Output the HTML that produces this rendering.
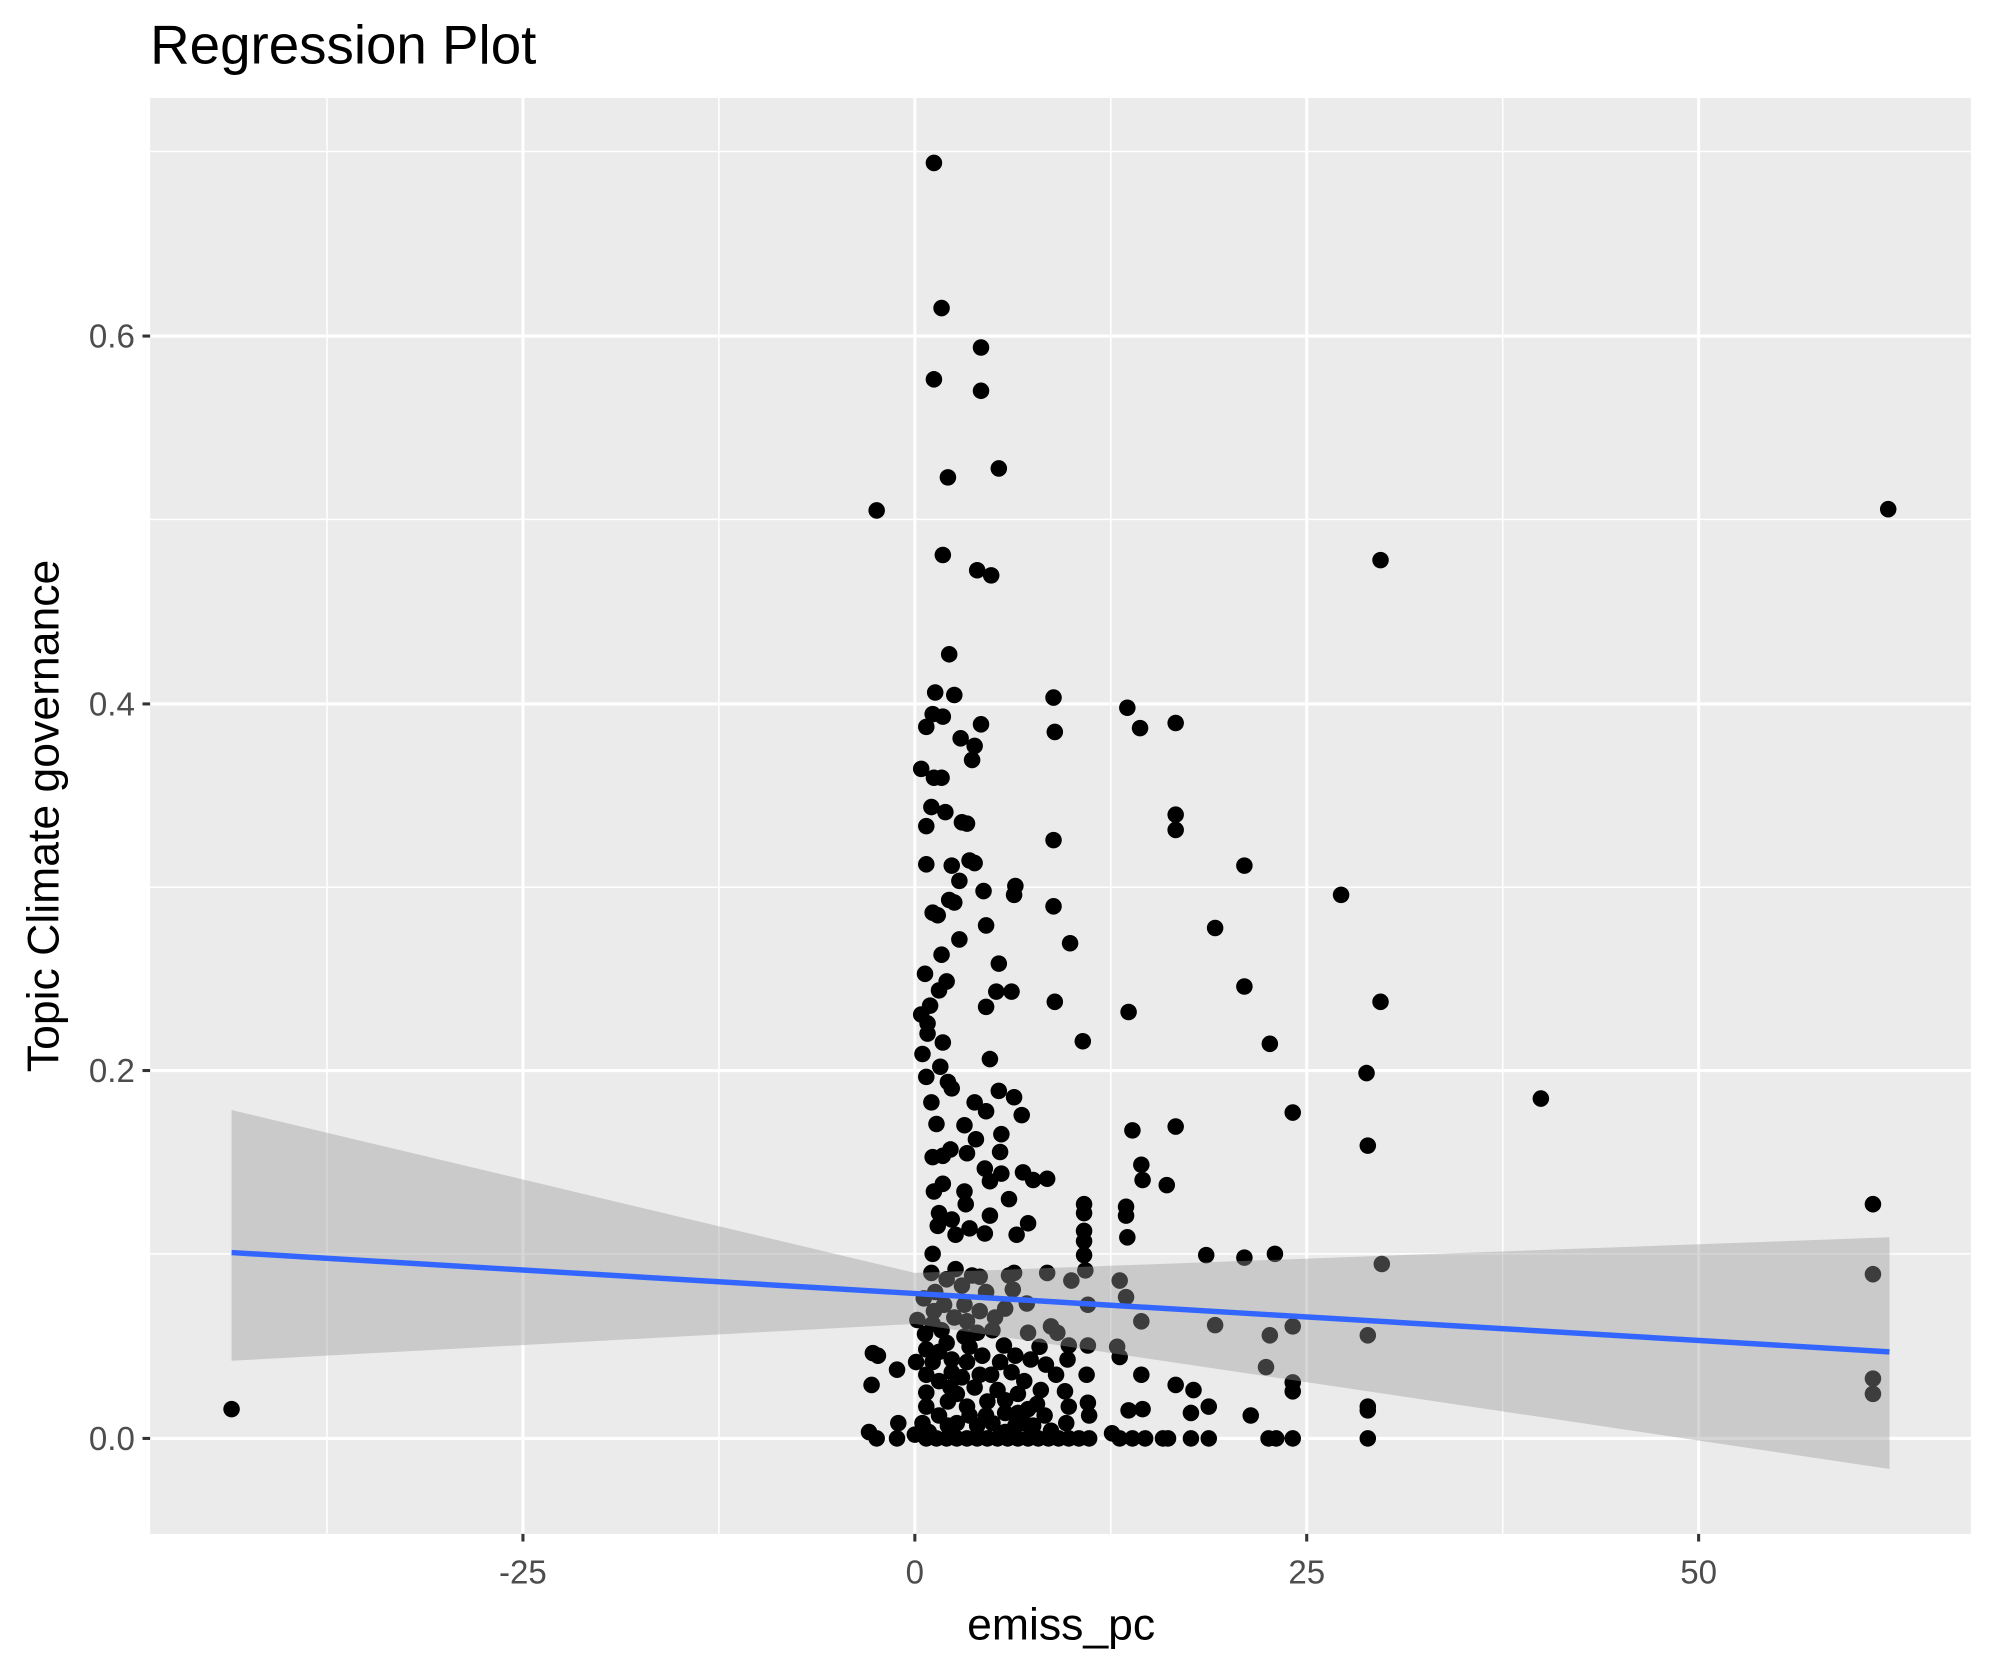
<!DOCTYPE html>
<html><head><meta charset="utf-8"><style>html,body{margin:0;padding:0;background:#fff}svg{display:block}</style></head>
<body>
<svg width="1990" height="1665" viewBox="0 0 1564 1308" preserveAspectRatio="none" xmlns="http://www.w3.org/2000/svg" font-family="Liberation Sans, sans-serif">
<rect x="0" y="0" width="1564" height="1308" fill="#fff"/>
<rect x="118" y="77" width="1431" height="1128" fill="#ebebeb"/>
<g stroke="#fff" stroke-width="1.2">
<line x1="257" y1="77" x2="257" y2="1205"/><line x1="565" y1="77" x2="565" y2="1205"/><line x1="873" y1="77" x2="873" y2="1205"/><line x1="1181" y1="77" x2="1181" y2="1205"/>
<line x1="118" y1="985" x2="1549" y2="985"/><line x1="118" y1="697" x2="1549" y2="697"/><line x1="118" y1="408" x2="1549" y2="408"/><line x1="118" y1="119" x2="1549" y2="119"/>
</g>
<g stroke="#fff" stroke-width="2.4">
<line x1="411" y1="77" x2="411" y2="1205"/><line x1="719" y1="77" x2="719" y2="1205"/><line x1="1027" y1="77" x2="1027" y2="1205"/><line x1="1335" y1="77" x2="1335" y2="1205"/>
<line x1="118" y1="1130" x2="1549" y2="1130"/><line x1="118" y1="841" x2="1549" y2="841"/><line x1="118" y1="553" x2="1549" y2="553"/><line x1="118" y1="264" x2="1549" y2="264"/>
</g>
<path fill="none" stroke="#000" stroke-width="13" stroke-linecap="round" d="M734 128h0M740 242h0M771 273h0M734 298h0M771 307h0M689 401h0M745 375h0M785 368h0M1484 400h0M741 436h0M768 448h0M779 452h0M1085 440h0M746 514h0M735 544h0M750 546h0M828 548h0M886 556h0M924 568h0M896 572h0M728 571h0M741 563h0M733 561h0M771 569h0M755 580h0M829 575h0M766 586h0M764 597h0M724 604h0M734 611h0M740 611h0M732 634h0M743 638h0M756 646h0M760 647h0M728 649h0M924 640h0M924 652h0M728 679h0M748 680h0M762 676h0M766 678h0M754 692h0M798 696h0M797 703h0M773 700h0M828 660h0M978 680h0M1054 703h0M733 717h0M737 719h0M750 709h0M746 707h0M775 727h0M828 712h0M955 729h0M754 738h0M841 741h0M740 750h0M785 757h0M727 765h0M744 771h0M738 778h0M731 790h0M783 779h0M795 779h0M978 775h0M829 787h0M887 795h0M775 791h0M1085 787h0M724 797h0M729 804h0M729 812h0M741 819h0M725 828h0M851 818h0M998 820h0M778 832h0M739 838h0M728 846h0M745 850h0M748 855h0M1074 843h0M785 857h0M766 866h0M732 866h0M797 862h0M1211 863h0M1016 874h0M775 873h0M803 876h0M736 883h0M758 884h0M787 891h0M890 888h0M924 885h0M1075 900h0M747 903h0M767 895h0M774 918h0M786 905h0M733 909h0M741 908h0M760 906h0M804 921h0M812 927h0M823 926h0M897 915h0M898 927h0M917 931h0M741 930h0M734 936h0M758 936h0M778 928h0M787 922h0M793 942h0M759 946h0M738 953h0M748 958h0M778 955h0M808 961h0M885 948h0M885 955h0M852 946h0M852 953h0M1472 946h0M737 963h0M751 970h0M762 965h0M774 969h0M799 970h0M852 967h0M886 972h0M852 975h0M948 986h0M978 988h0M1002 985h0M1086 993h0M852 986h0M853 998h0M733 985h0M751 997h0M764 1002h0M793 1002h0M797 1000h0M823 1000h0M842 1006h0M880 1006h0M1472 1001h0M855 1025h0M885 1019h0M721 1037h0M735 1015h0M758 1025h0M775 1015h0M796 1013h0M807 1024h0M727 1048h0M744 1055h0M768 1047h0M789 1057h0M808 1047h0M826 1042h0M831 1047h0M855 1057h0M897 1038h0M955 1041h0M998 1049h0M1016 1042h0M1075 1049h0M878 1058h0M880 1066h0M686 1063h0M690 1065h0M705 1076h0M733 1070h0M756 1082h0M779 1080h0M798 1065h0M817 1058h0M840 1057h0M839 1068h0M752 1095h0M776 1101h0M800 1095h0M815 1103h0M837 1093h0M854 1080h0M855 1102h0M897 1080h0M924 1088h0M938 1092h0M995 1074h0M1016 1086h0M1016 1093h0M1472 1083h0M1472 1095h0M685 1088h0M728 1094h0M745 1101h0M762 1112h0M790 1110h0M808 1107h0M821 1112h0M838 1118h0M856 1112h0M887 1108h0M898 1107h0M936 1110h0M950 1105h0M983 1112h0M1075 1105h0M1075 1108h0M182 1107h0
M683 1125h0M689 1130h0M705 1130h0M706 1118h0M719 1127h0M728 1130h0M736 1130h0M744 1130h0M752 1130h0M760 1130h0M768 1130h0M776 1130h0M784 1130h0M792 1130h0M800 1130h0M808 1130h0M816 1130h0M824 1130h0M832 1130h0M840 1130h0M848 1130h0M856 1130h0M874 1126h0M880 1130h0M890 1130h0M900 1130h0M914 1130h0M918 1130h0M936 1130h0M950 1130h0M997 1130h0M1003 1130h0M1016 1130h0M1075 1130h0
M726 1020h0M734 1030h0M742 1025h0M750 1035h0M760 1038h0M770 1030h0M782 1035h0M790 1028h0M728 1060h0M738 1062h0M748 1068h0M762 1058h0M772 1065h0M786 1070h0M795 1078h0M805 1085h0M728 1080h0M738 1085h0M748 1078h0M766 1090h0M784 1092h0M728 1105h0M738 1112h0M752 1118h0M768 1120h0M780 1118h0M798 1120h0M812 1120h0M826 1124h0M840 1105h0M732 1000h0M744 1005h0M756 1010h0M770 1003h0M780 1045h0M758 1050h0M740 1045h0M725 1118h0M745 1120h0M760 1105h0M775 1112h0M790 1100h0M805 1118h0M818 1092h0M830 1080h0M720 1070h0M733 1040h0M747 1090h0M730 1125h0M790 1125h0M800 1110h0M770 1080h0M760 1070h0M810 1068h0M822 1072h0"/>
<polygon fill="#999" fill-opacity="0.4" points="182,872 719,1000 1485,972 1485,1154 719,1040 182,1069"/>
<line x1="182" y1="984" x2="1485" y2="1062" stroke="#3366ff" stroke-width="4.3"/>
<g stroke="#333" stroke-width="2.4">
<line x1="112" y1="1130" x2="118" y2="1130"/><line x1="112" y1="841" x2="118" y2="841"/><line x1="112" y1="553" x2="118" y2="553"/><line x1="112" y1="264" x2="118" y2="264"/>
<line x1="411" y1="1205" x2="411" y2="1211"/><line x1="719" y1="1205" x2="719" y2="1211"/><line x1="1027" y1="1205" x2="1027" y2="1211"/><line x1="1335" y1="1205" x2="1335" y2="1211"/>
</g>
<g fill="#4d4d4d" font-size="26" text-anchor="end">
<text x="106" y="1139">0.0</text><text x="106" y="850">0.2</text><text x="106" y="562">0.4</text><text x="106" y="273">0.6</text>
</g>
<g fill="#4d4d4d" font-size="26" text-anchor="middle">
<text x="411" y="1244">-25</text><text x="719" y="1244">0</text><text x="1027" y="1244">25</text><text x="1335" y="1244">50</text>
</g>
<text x="834" y="1288" font-size="35" text-anchor="middle" fill="#000">emiss_pc</text>
<text transform="translate(46,641) rotate(-90)" font-size="35" text-anchor="middle" fill="#000">Topic Climate governance</text>
<text x="118" y="50" font-size="43" fill="#000">Regression Plot</text>
</svg>
</body></html>
